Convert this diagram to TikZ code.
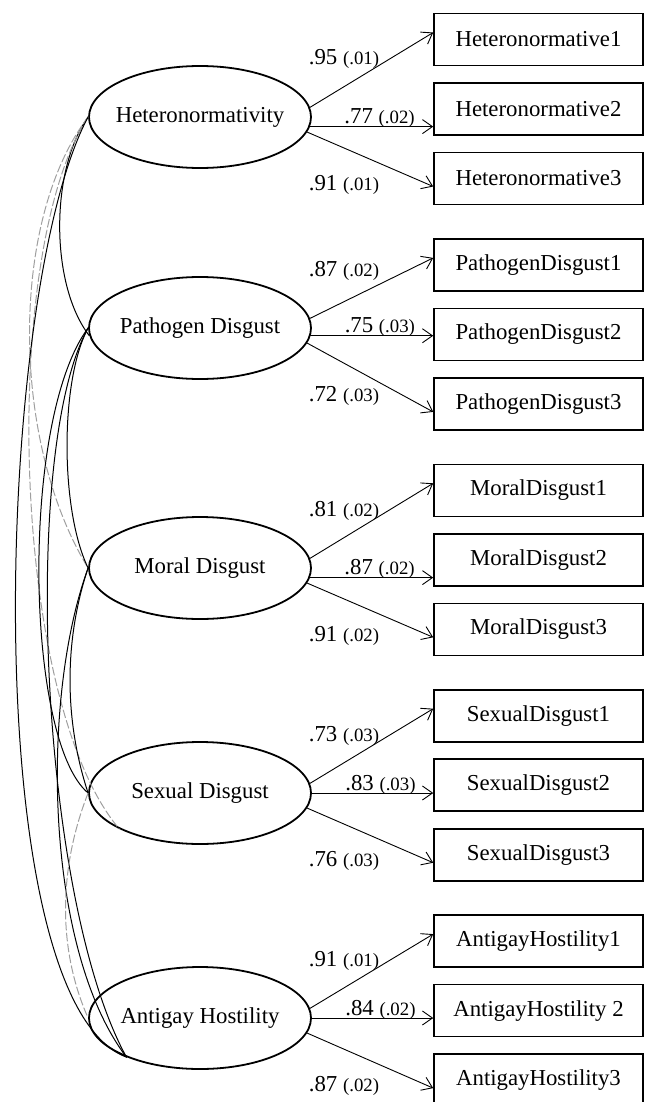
\documentclass[tikz,border=0pt]{standalone}
\usepackage{fontspec}
\setmainfont{Liberation Serif}
\usetikzlibrary{arrows.meta,shapes.geometric}
\tikzset{
  latent/.style={draw, ellipse, line width=0.9pt, inner xsep=-4pt, inner ysep=0pt,
    minimum width=111pt, minimum height=51pt, font=\fontsize{11.4}{13}\selectfont},
  obs/.style={draw, line width=0.8pt, inner sep=0pt,
    minimum width=104.5pt, minimum height=26pt, font=\fontsize{11.4}{13}\selectfont},
  load/.style={->, line width=0.45pt},
  est/.style={inner sep=0pt, anchor=base, font=\fontsize{11.4}{13}\selectfont},
  cov/.style={line width=0.5pt},
  ncov/.style={line width=0.5pt, gray!75, dash pattern=on 4pt off 1.5pt},
}
\newcommand{\se}[1]{{\fontsize{9.4}{11}\selectfont(#1)}}

\begin{document}
\begin{tikzpicture}[x=0.5pt, y=-0.5pt, >={Straight Barb[length=5pt,width=7pt]}, line cap=round]
\useasboundingbox (0,0) rectangle (647,1102);
% factors, indicators, loadings
\foreach \n/\lv/\y/\m/\oa/\ob/\oc/\la/\lb/\lc [count=\k from 0] in {
  H/Heteronormativity/117/-5/Heteronormative1/Heteronormative2/Heteronormative3/.95 \se{.01}/.77 \se{.02}/.91 \se{.01},
  P/Pathogen Disgust/328/-4/PathogenDisgust1/PathogenDisgust2/PathogenDisgust3/.87 \se{.02}/.75 \se{.03}/.72 \se{.03},
  M/Moral Disgust/568/-5/MoralDisgust1/MoralDisgust2/MoralDisgust3/.81 \se{.02}/.87 \se{.02}/.91 \se{.02},
  S/Sexual Disgust/793/0/SexualDisgust1/SexualDisgust2/SexualDisgust3/.73 \se{.03}/.83 \se{.03}/.76 \se{.03},
  A/Antigay Hostility/1018/0/AntigayHostility1/AntigayHostility 2/AntigayHostility3/.91 \se{.01}/.84 \se{.02}/.87 \se{.02}} {
  \node[latent] (\n) at (200,\y) {\lv};
  \node[obs] (\n1) at (538.5,{39.5+225.4*\k}) {\oa};
  \node[obs] (\n2) at (538.5,{109+225.4*\k}) {\ob};
  \node[obs] (\n3) at (538.5,{178.5+225.4*\k}) {\oc};
  \draw[load] (\n.5) -- ([yshift=3.5pt]\n1.west);
  \draw[load] (\n.\m) -- (\n.\m -| \n2.west) node[est, pos=.565, yshift=1.5pt] (\n-m) {\lb};
  \draw[load] (\n.-8) -- ([yshift=-4pt]\n3.west);
  \node[est] (\n-t) at (344,\y-52) {\la};
  \node[est] (\n-b) at (344,\y+73) {\lc};
}
% covariances (solid / dashed grey)
\draw[cov] (H.west) .. controls (50,170) and (50,285) .. (P.184);
\draw[ncov] (H.west) .. controls (10,220) and (10,440) .. (M.west);
\draw[ncov] (H.west) .. controls (0,250) and (10,700) .. (S.204);
\draw[cov] (H.west) .. controls (-5,290) and (-25,1000) .. (A.208);
\draw[cov] (P.west) .. controls (60,380) and (60,510) .. (M.west);
\draw[cov] (P.west) .. controls (20,420) and (25,740) .. (S.west);
\draw[cov] (P.west) .. controls (20,450) and (40,900) .. (A.208);
\draw[cov] (M.west) .. controls (64,640) and (64,720) .. (S.west);
\draw[cov] (M.west) .. controls (40,700) and (45,950) .. (A.208);
\draw[ncov] (S.west) .. controls (58,870) and (58,950) .. (A.west);
\end{tikzpicture}
\end{document}
